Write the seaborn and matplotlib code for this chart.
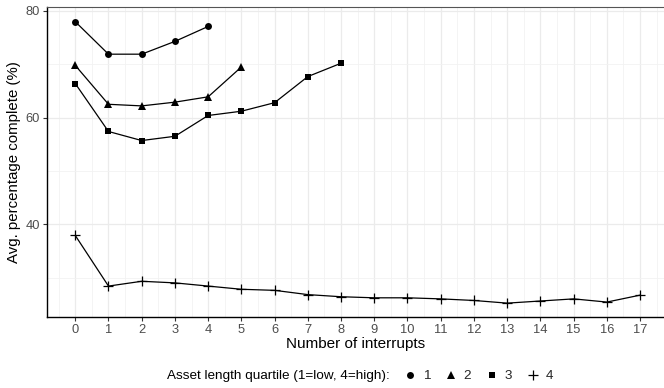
import matplotlib
matplotlib.use("Agg")
import matplotlib.pyplot as plt
from matplotlib.lines import Line2D
from matplotlib.ticker import MultipleLocator
import seaborn as sns
import pandas as pd

# Data
q1_x = [0, 1, 2, 3, 4]
q1_y = [78.0, 71.9, 71.9, 74.3, 77.1]
q2_x = [0, 1, 2, 3, 4, 5]
q2_y = [69.8, 62.5, 62.2, 62.9, 63.9, 69.5]
q3_x = [0, 1, 2, 3, 4, 5, 6, 7, 8]
q3_y = [66.4, 57.4, 55.7, 56.5, 60.4, 61.2, 62.8, 67.7, 70.2]
q4_x = list(range(18))
q4_y = [37.9, 28.4, 29.3, 29.0, 28.4, 27.8, 27.6, 26.8, 26.4, 26.2, 26.2, 26.0,
        25.7, 25.2, 25.6, 26.0, 25.4, 26.7]
quartiles = ["1", "2", "3", "4"]

frames = []
for q, xs, ys in zip(quartiles, [q1_x, q2_x, q3_x, q4_x], [q1_y, q2_y, q3_y, q4_y]):
    frames.append(pd.DataFrame({"interrupts": xs, "pct": ys, "quartile": q}))
df = pd.concat(frames, ignore_index=True)

sns.set_theme(style="white")
plt.rcParams['font.family'] = ['Liberation Sans', 'DejaVu Sans']

fig = plt.figure(figsize=(6.64, 3.88), dpi=100)
ax = fig.add_axes([47/664, 1 - 317/388, 1 - 47/664, (317 - 7)/388])

markers = {"1": "o", "2": "^", "3": "s", "4": "+"}
sizes = {"1": 5.0, "2": 5.8, "3": 5.0, "4": 7.2}
for q in quartiles:
    sub = df[df.quartile == q]
    sns.lineplot(data=sub, x="interrupts", y="pct", ax=ax, color="black",
                 marker=markers[q], markersize=sizes[q], markeredgewidth=0.9 if q == "4" else 0,
                 markeredgecolor="black", markerfacecolor="black", linewidth=0.9,
                 legend=False, zorder=3)

ax.set_xlim(-0.85, 17.72)
ax.set_ylim(22.6, 80.75)
ax.xaxis.set_major_locator(MultipleLocator(1))
ax.xaxis.set_minor_locator(MultipleLocator(0.5))
ax.yaxis.set_major_locator(MultipleLocator(20))
ax.yaxis.set_minor_locator(MultipleLocator(10))
ax.grid(True, which="major", color="#EBEBEB", linewidth=0.9, zorder=0)
ax.grid(True, which="minor", color="#F2F2F2", linewidth=0.6, zorder=0)
ax.set_axisbelow(True)

for side in ["left", "bottom"]:
    ax.spines[side].set_color("black")
    ax.spines[side].set_linewidth(1.0)
ax.spines["top"].set_color("#555555")
ax.spines["top"].set_linewidth(0.8)
ax.spines["right"].set_visible(False)

ax.tick_params(axis="both", which="major", length=3, width=0.8, color="#333333",
               labelsize=9.3, labelcolor="#4D4D4D", pad=2, bottom=True, left=True)
ax.tick_params(axis="both", which="minor", length=0)
ax.set_xlabel("Number of interrupts", fontsize=11, color="black", labelpad=1)
ax.set_ylabel("Avg. percentage complete (%)", fontsize=10.8, color="black", labelpad=3)

fig.text(167/664, 1 - 376/388, "Asset length quartile (1=low, 4=high):", fontsize=9.7,
         va="center", ha="left", color="black")
handles = [Line2D([], [], linestyle="none", marker=markers[q], color="black",
                  markersize=sizes[q], markeredgewidth=0.9 if q == "4" else 0)
           for q in quartiles]
fig.legend(handles, quartiles, loc="center left", bbox_to_anchor=(403/664, 1 - 376/388),
           ncol=4, frameon=False, fontsize=9.7, handlelength=1.0, handletextpad=0.45,
           columnspacing=1.05, borderpad=0, borderaxespad=0)

fig.savefig("out.png", dpi=100)
